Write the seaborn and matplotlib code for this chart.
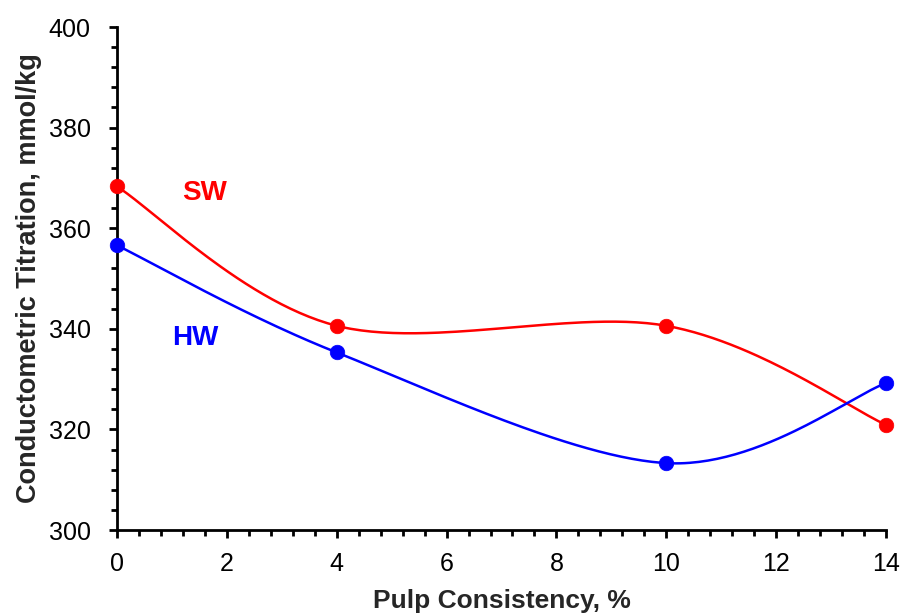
import numpy as np
import pandas as pd
import matplotlib
matplotlib.use("Agg")
import matplotlib.pyplot as plt
from matplotlib.ticker import MultipleLocator
import seaborn as sns

# Pulp consistency (%) and conductometric titration results (mmol/kg)
consistency = [0, 4, 10, 14]
sw_values = [368.3, 340.6, 340.6, 320.9]
hw_values = [356.6, 335.3, 313.3, 329.2]

sns.set_theme(style="ticks")
plt.rcParams["font.family"] = ["Liberation Sans", "DejaVu Sans"]


def smooth_curve(xs, ys, n=60):
    """Piecewise cubic Bezier through the points (Catmull-Rom style smoothing)."""
    pts = np.column_stack([xs, ys]).astype(float)
    out = []
    m = len(pts)
    for i in range(m - 1):
        p0 = pts[max(i - 1, 0)]
        p1 = pts[i]
        p2 = pts[i + 1]
        p3 = pts[min(i + 2, m - 1)]
        c1 = p1 + (p2 - p0) / 6.0
        c2 = p2 - (p3 - p1) / 6.0
        t = np.linspace(0, 1, n)[:, None]
        seg = ((1 - t) ** 3) * p1 + 3 * ((1 - t) ** 2) * t * c1 + 3 * (1 - t) * t ** 2 * c2 + t ** 3 * p2
        out.append(seg if i == 0 else seg[1:])
    curve = np.vstack(out)
    return pd.DataFrame({"x": curve[:, 0], "y": curve[:, 1]})


fig = plt.figure(figsize=(9.04, 6.14), dpi=100)
ax = fig.add_axes([0.1294, 0.1368, 0.8507, 0.8192])

series = [("SW", sw_values, "#FF0000"), ("HW", hw_values, "#0000FF")]
for name, vals, color in series:
    curve = smooth_curve(consistency, vals)
    sns.lineplot(data=curve, x="x", y="y", sort=False, estimator=None,
                 color=color, linewidth=1.8, ax=ax)
    pts = pd.DataFrame({"x": consistency, "y": vals})
    sns.scatterplot(data=pts, x="x", y="y", color=color, s=110,
                    edgecolor=color, linewidth=0.5, zorder=5, ax=ax,
                    clip_on=False)

ax.text(1.6, 367.0, "SW", color="#FF0000", fontsize=20, fontweight="bold",
        ha="center", va="center")
ax.text(1.42, 338.2, "HW", color="#0000FF", fontsize=20, fontweight="bold",
        ha="center", va="center")

ax.set_xlim(0, 14)
ax.set_ylim(300, 400)
ax.xaxis.set_major_locator(MultipleLocator(2))
ax.xaxis.set_minor_locator(MultipleLocator(0.4))
ax.yaxis.set_major_locator(MultipleLocator(20))
ax.yaxis.set_minor_locator(MultipleLocator(4))

for side in ("top", "right"):
    ax.spines[side].set_visible(False)
for side in ("left", "bottom"):
    ax.spines[side].set_linewidth(2)
    ax.spines[side].set_color("black")

ax.tick_params(which="major", direction="out", length=6, width=2,
               labelsize=18, colors="black")
ax.tick_params(which="minor", direction="out", length=4.5, width=2, colors="black")
ax.tick_params(axis="x", which="major", pad=9.5)
ax.tick_params(axis="y", which="major", pad=13)

ax.set_xlabel("Pulp Consistency, %", fontsize=19, fontweight="bold", labelpad=10)
ax.set_ylabel("Conductometric Titration, mmol/kg", fontsize=19.5,
              fontweight="bold", labelpad=5)

fig.savefig("out.png", dpi=100)
